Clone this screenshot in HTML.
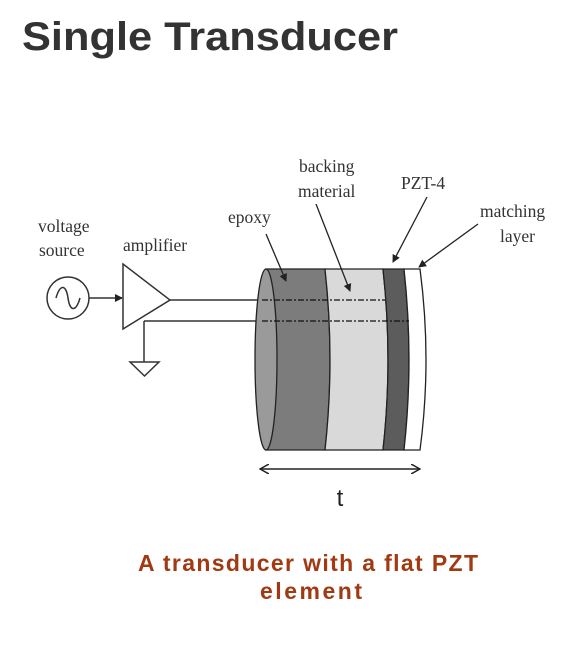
<!DOCTYPE html>
<html><head><meta charset="utf-8"><style>
html,body{margin:0;padding:0;background:#fff;width:576px;height:654px;overflow:hidden}
svg{display:block}
.s{font-family:"Liberation Serif",serif;font-size:17.5px;fill:#333}
</style></head><body>
<svg width="576" height="654" viewBox="0 0 576 654">
<defs><marker id="ah" markerWidth="8" markerHeight="8" refX="7" refY="4" orient="auto" markerUnits="userSpaceOnUse"><path d="M0,0 L8,4 L0,8 z" fill="#222"/></marker>
<marker id="oa" markerWidth="10" markerHeight="10" refX="9" refY="5" orient="auto" markerUnits="userSpaceOnUse"><path d="M0,0 L9,5 L0,10" fill="none" stroke="#222" stroke-width="1.5"/></marker>
<marker id="oa2" markerWidth="10" markerHeight="10" refX="1" refY="5" orient="auto" markerUnits="userSpaceOnUse"><path d="M10,0 L1,5 L10,10" fill="none" stroke="#222" stroke-width="1.5"/></marker></defs>
<text x="22" y="50" font-family="Liberation Sans, sans-serif" font-weight="bold" font-size="40" fill="#333" textLength="376" lengthAdjust="spacingAndGlyphs">Single Transducer</text>

<g>
<circle cx="68" cy="298" r="21" fill="#fff" stroke="#333" stroke-width="1.5"/>
<path d="M56,298 C60,284 66,284 68,298 C70,312 76,312 80,298" fill="none" stroke="#333" stroke-width="1.5"/>
</g>
<line x1="89" y1="298" x2="122" y2="298" stroke="#333" stroke-width="1.5" marker-end="url(#ah)"/>
<polygon points="123,264 123,329 170,300" fill="#fff" stroke="#333" stroke-width="1.5"/>
<line x1="170" y1="300" x2="258" y2="300" stroke="#333" stroke-width="1.5"/>
<line x1="144" y1="321" x2="258" y2="321" stroke="#333" stroke-width="1.5"/>
<line x1="144" y1="321" x2="144" y2="362" stroke="#333" stroke-width="1.5"/>
<polygon points="130,362 159,362 144.5,376" fill="#fff" stroke="#333" stroke-width="1.5"/>

<g>
<path d="M266,269 L325,269 Q335,360 325,450 L266,450 Z" fill="#7c7c7c" stroke="#222" stroke-width="1.3"/>
<path d="M325,269 L383,269 Q393,360 383,450 L325,450 Q335,360 325,269 Z" fill="#d9d9d9" stroke="#222" stroke-width="1.3"/>
<path d="M383,269 L404,269 Q414,360 404,450 L383,450 Q393,360 383,269 Z" fill="#5c5c5c" stroke="#222" stroke-width="1.3"/>
<path d="M404,269 L420,269 Q432,360 420,450 L404,450 Q414,360 404,269 Z" fill="#fff" stroke="#222" stroke-width="1.3"/>
<ellipse cx="266" cy="359.5" rx="11" ry="90.5" fill="#9a9a9a" stroke="#222" stroke-width="1.3"/>
<line x1="262" y1="300" x2="385" y2="300" stroke="#111" stroke-width="1.3" stroke-dasharray="6,2,2,2"/>
<line x1="262" y1="321" x2="409" y2="321" stroke="#111" stroke-width="1.3" stroke-dasharray="6,2,2,2"/>
</g>

<line x1="260" y1="469" x2="420" y2="469" stroke="#222" stroke-width="1.5" marker-start="url(#oa2)" marker-end="url(#oa)"/>
<text x="340" y="506" font-family="Liberation Sans, sans-serif" font-size="24" fill="#222" text-anchor="middle">t</text>

<text class="s" x="38" y="232">voltage</text>
<text class="s" x="39" y="256">source</text>
<text class="s" x="123" y="251">amplifier</text>
<text class="s" x="228" y="223">epoxy</text>
<text class="s" x="299" y="172">backing</text>
<text class="s" x="298" y="197">material</text>
<text class="s" x="401" y="189">PZT-4</text>
<text class="s" x="480" y="217">matching</text>
<text class="s" x="500" y="242">layer</text>

<line x1="266" y1="234" x2="286" y2="281" stroke="#222" stroke-width="1.3" marker-end="url(#ah)"/>
<line x1="316" y1="204" x2="350" y2="291" stroke="#222" stroke-width="1.3" marker-end="url(#ah)"/>
<line x1="427" y1="197" x2="393" y2="262" stroke="#222" stroke-width="1.3" marker-end="url(#ah)"/>
<line x1="478" y1="224" x2="419" y2="267" stroke="#222" stroke-width="1.3" marker-end="url(#ah)"/>

<g font-family="Liberation Sans, sans-serif" font-weight="bold" font-size="23" fill="#a13a12">
<text x="138" y="571" textLength="340" lengthAdjust="spacing">A transducer with a flat PZT</text>
<text x="260" y="599" textLength="102" lengthAdjust="spacing">element</text>
</g>
</svg>
</body></html>
